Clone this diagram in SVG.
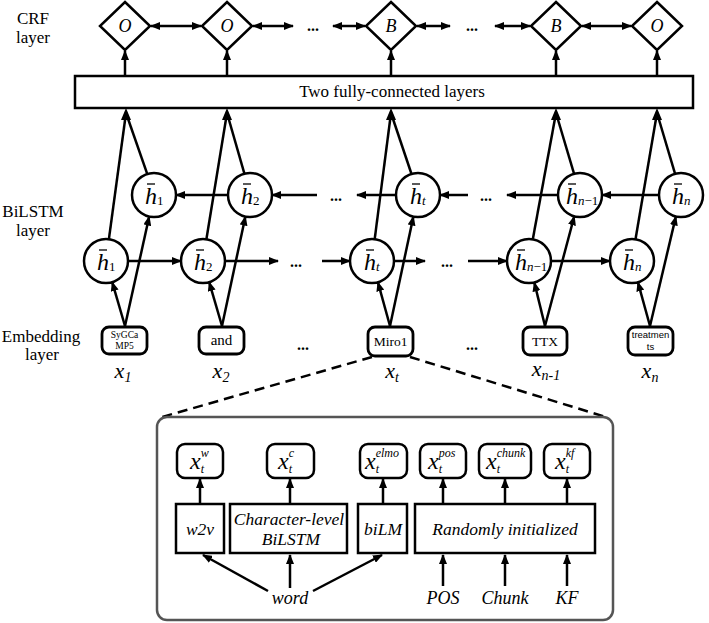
<svg xmlns="http://www.w3.org/2000/svg" width="709" height="623" viewBox="0 0 709 623" font-family="Liberation Serif, Times New Roman, serif">
<style>
svg text{font-family:'Liberation Serif','Times New Roman',Times,serif;fill:#000}
.side{font-size:17px;text-anchor:middle}
.shape{fill:#fff;stroke:#000;stroke-width:2.5}
.emb{fill:#fff;stroke:#000;stroke-width:2.8}
.ln{fill:none;stroke:#000;stroke-width:2.5}
.arr{fill:none;stroke:#000;stroke-width:2.5;marker-end:url(#ah)}
.dbl{fill:none;stroke:#000;stroke-width:2.5;marker-start:url(#ah);marker-end:url(#ah)}
.dash{fill:none;stroke:#000;stroke-width:2.5;stroke-dasharray:10 6}
.dots{font-size:16px;font-weight:bold;text-anchor:middle}
.lab{font-size:17.5px;font-style:italic;text-anchor:middle}
.h{font-size:24px;font-style:italic}
.hs{font-size:13px}
.up{font-style:normal}
.bar{stroke:#000;stroke-width:1.3}
.head{fill:#000}
.dl{font-size:18px;font-style:italic;text-anchor:middle}
.xl{font-size:22px;font-style:italic;text-anchor:middle}
.xs{font-size:14px}
.xt{font-size:24px;font-style:italic}
.ss{font-size:12px}
.et{text-anchor:middle}
svg text.sans{font-family:'Liberation Sans',Arial,sans-serif}
</style>
<defs>
<marker id="ah" viewBox="0 0 10 8" refX="9" refY="4" markerWidth="10" markerHeight="8" markerUnits="userSpaceOnUse" orient="auto-start-reverse"><path d="M0,0 L10,4 L0,8 z"/></marker>
</defs>

<g id="labels">
<text class="side" x="33" y="24">CRF</text>
<text class="side" x="33" y="43">layer</text>
<text class="side" x="33" y="217">BiLSTM</text>
<text class="side" x="33" y="236">layer</text>
<text class="side" x="41" y="342">Embedding</text>
<text class="side" x="42" y="360">layer</text>
</g>

<g id="connectors">
<line class="arr" x1="125" y1="76" x2="125" y2="51"/>
<line class="arr" x1="227" y1="76" x2="227" y2="51"/>
<line class="arr" x1="391" y1="76" x2="391" y2="51"/>
<line class="arr" x1="556" y1="76" x2="556" y2="51"/>
<line class="arr" x1="657" y1="76" x2="657" y2="51"/>
<line class="dbl" x1="151" y1="26" x2="201" y2="26"/>
<line class="dbl" x1="253" y1="26" x2="293" y2="26"/>
<line class="dbl" x1="333" y1="26" x2="365" y2="26"/>
<line class="dbl" x1="417" y1="26" x2="450" y2="26"/>
<line class="dbl" x1="495" y1="26" x2="530" y2="26"/>
<line class="dbl" x1="582" y1="26" x2="631" y2="26"/>
<line class="ln" x1="108.9" y1="239.2" x2="126" y2="113"/>
<line class="ln" x1="147.3" y1="174.1" x2="126" y2="113"/>
<line class="ln" x1="206.4" y1="239.3" x2="227" y2="113"/>
<line class="ln" x1="244.4" y1="173.7" x2="227" y2="113"/>
<line class="ln" x1="374.7" y1="239.2" x2="391" y2="113"/>
<line class="ln" x1="411.5" y1="174" x2="391" y2="113"/>
<line class="ln" x1="532.8" y1="239.3" x2="556" y2="113"/>
<line class="ln" x1="574.1" y1="173.8" x2="556" y2="113"/>
<line class="ln" x1="635.5" y1="239.3" x2="657" y2="113"/>
<line class="ln" x1="675.1" y1="173.8" x2="657" y2="113"/>
<path class="head" d="M126,108 L121,120 L131,120 Z"/>
<path class="head" d="M227,108 L222,120 L232,120 Z"/>
<path class="head" d="M391,108 L386,120 L396,120 Z"/>
<path class="head" d="M556,108 L551,120 L561,120 Z"/>
<path class="head" d="M657,108 L652,120 L662,120 Z"/>
<line class="arr" x1="128" y1="261" x2="181" y2="261"/>
<line class="arr" x1="225" y1="261" x2="278" y2="261"/>
<line class="arr" x1="322" y1="261" x2="350" y2="261"/>
<line class="arr" x1="394" y1="261" x2="425" y2="261"/>
<line class="arr" x1="468" y1="261" x2="507" y2="261"/>
<line class="arr" x1="551" y1="261" x2="610" y2="261"/>
<line class="arr" x1="228" y1="195" x2="176" y2="195"/>
<line class="arr" x1="317" y1="195" x2="272" y2="195"/>
<line class="arr" x1="396" y1="195" x2="357" y2="195"/>
<line class="arr" x1="468" y1="195" x2="440" y2="195"/>
<line class="arr" x1="558" y1="195" x2="507" y2="195"/>
<line class="arr" x1="659" y1="195" x2="602" y2="195"/>
<line class="arr" x1="125" y1="326" x2="112.2" y2="282.1"/>
<line class="arr" x1="125" y1="326" x2="149.2" y2="216.5"/>
<line class="arr" x1="222" y1="326" x2="209.2" y2="282.1"/>
<line class="arr" x1="222" y1="326" x2="245.4" y2="216.5"/>
<line class="arr" x1="390" y1="326" x2="377.9" y2="282.2"/>
<line class="arr" x1="390" y1="326" x2="413.4" y2="216.5"/>
<line class="arr" x1="545" y1="326" x2="534.3" y2="282.4"/>
<line class="arr" x1="545" y1="326" x2="574.3" y2="216.3"/>
<line class="arr" x1="650" y1="326" x2="637.9" y2="282.2"/>
<line class="arr" x1="650" y1="326" x2="675.9" y2="216.4"/>
<line class="dash" x1="372" y1="357" x2="162" y2="417"/>
<line class="dash" x1="410" y1="357" x2="606" y2="417"/>
<line class="arr" x1="200" y1="504" x2="200" y2="479"/>
<line class="arr" x1="290" y1="504" x2="290" y2="479"/>
<line class="arr" x1="383" y1="504" x2="383" y2="479"/>
<line class="arr" x1="443" y1="504" x2="443" y2="479"/>
<line class="arr" x1="505" y1="504" x2="505" y2="479"/>
<line class="arr" x1="567" y1="504" x2="567" y2="479"/>
<line class="arr" x1="268" y1="591" x2="203" y2="555"/>
<line class="arr" x1="290" y1="588" x2="290" y2="555"/>
<line class="arr" x1="313" y1="591" x2="382" y2="555"/>
<line class="arr" x1="443" y1="586" x2="443" y2="555"/>
<line class="arr" x1="505" y1="586" x2="505" y2="555"/>
<line class="arr" x1="567" y1="586" x2="567" y2="555"/>
</g>

<g id="dots">
<text class="dots" x="313" y="31">...</text>
<text class="dots" x="472" y="31">...</text>
<text class="dots" x="296" y="267">...</text>
<text class="dots" x="447" y="267">...</text>
<text class="dots" x="336" y="201">...</text>
<text class="dots" x="486" y="201">...</text>
<text class="dots" x="303" y="350">...</text>
<text class="dots" x="472" y="350">...</text>
</g>

<g id="crf1"><polygon class="shape" points="125,2 150,26 125,50 100,26"/><text class="dl" x="125" y="32">O</text></g>
<g id="crf2"><polygon class="shape" points="227,2 252,26 227,50 202,26"/><text class="dl" x="227" y="32">O</text></g>
<g id="crft"><polygon class="shape" points="391,2 416,26 391,50 366,26"/><text class="dl" x="391" y="32">B</text></g>
<g id="crfn1"><polygon class="shape" points="556,2 581,26 556,50 531,26"/><text class="dl" x="556" y="32">B</text></g>
<g id="crfn"><polygon class="shape" points="657,2 682,26 657,50 632,26"/><text class="dl" x="657" y="32">O</text></g>

<g id="fc"><rect class="shape" x="75" y="76" width="618" height="32"/><text x="392" y="97" style="font-size:17px;text-anchor:middle">Two fully-connected layers</text></g>

<g id="fwd1"><circle class="shape" cx="106" cy="261" r="22"/><text class="h" x="97" y="270">h<tspan class="hs up" dy="1">1</tspan></text><line class="bar" x1="99" y1="250" x2="107" y2="250"/></g>
<g id="fwd2"><circle class="shape" cx="203" cy="261" r="22"/><text class="h" x="194" y="270">h<tspan class="hs up" dy="1">2</tspan></text><line class="bar" x1="196" y1="250" x2="204" y2="250"/></g>
<g id="fwdt"><circle class="shape" cx="372" cy="261" r="22"/><text class="h" x="364" y="270">h<tspan class="hs" dy="1">t</tspan></text><line class="bar" x1="366" y1="250" x2="374" y2="250"/></g>
<g id="fwdn1"><circle class="shape" cx="529" cy="261" r="22"/><text class="h" x="515" y="270">h<tspan class="hs" dy="1">n</tspan><tspan class="hs up">−1</tspan></text><line class="bar" x1="517" y1="250" x2="525" y2="250"/></g>
<g id="fwdn"><circle class="shape" cx="632" cy="261" r="22"/><text class="h" x="623" y="270">h<tspan class="hs" dy="1">n</tspan></text><line class="bar" x1="625" y1="250" x2="633" y2="250"/></g>

<g id="bwd1"><circle class="shape" cx="154" cy="195" r="22"/><text class="h" x="145" y="204">h<tspan class="hs up" dy="1">1</tspan></text><line class="bar" x1="147" y1="184" x2="155" y2="184"/></g>
<g id="bwd2"><circle class="shape" cx="250" cy="195" r="22"/><text class="h" x="241" y="204">h<tspan class="hs up" dy="1">2</tspan></text><line class="bar" x1="243" y1="184" x2="251" y2="184"/></g>
<g id="bwdt"><circle class="shape" cx="418" cy="195" r="22"/><text class="h" x="410" y="204">h<tspan class="hs" dy="1">t</tspan></text><line class="bar" x1="412" y1="184" x2="420" y2="184"/></g>
<g id="bwdn1"><circle class="shape" cx="580" cy="195" r="22"/><text class="h" x="566" y="204">h<tspan class="hs" dy="1">n</tspan><tspan class="hs up">−1</tspan></text><line class="bar" x1="568" y1="184" x2="576" y2="184"/></g>
<g id="bwdn"><circle class="shape" cx="681" cy="195" r="22"/><text class="h" x="672" y="204">h<tspan class="hs" dy="1">n</tspan></text><line class="bar" x1="674" y1="184" x2="682" y2="184"/></g>

<g id="emb1"><rect class="emb" x="102" y="327" width="45" height="27" rx="7"/><text class="et" x="124.5" y="338" font-size="9.5">SyGCa</text><text class="et" x="124.5" y="349" font-size="9.5">MP5</text><text class="xl" x="123" y="378">x<tspan class="xs" dy="4">1</tspan></text></g>
<g id="emb2"><rect class="emb" x="199" y="327" width="45" height="27" rx="7"/><text class="et" x="221.5" y="345" font-size="15">and</text><text class="xl" x="221" y="378">x<tspan class="xs" dy="4">2</tspan></text></g>
<g id="embt"><rect class="emb" x="368" y="327" width="45" height="29" rx="7"/><text class="et" x="390.5" y="346" font-size="13.5">Miro1</text><text class="xl" x="392" y="378">x<tspan class="xs" dy="4">t</tspan></text></g>
<g id="embn1"><rect class="emb" x="523" y="327" width="44" height="28" rx="7"/><text class="et" x="545" y="346" font-size="13.5">TTX</text><text class="xl" x="546" y="376">x<tspan class="xs" dy="4">n-1</tspan></text></g>
<g id="embn"><rect class="emb" x="628" y="327" width="45" height="28" rx="7"/><text class="et sans" x="650.5" y="338" font-size="9.5">treatmen</text><text class="et sans" x="650.5" y="350" font-size="9.5">ts</text><text class="xl" x="650" y="378">x<tspan class="xs" dy="4">n</tspan></text></g>

<g id="detail"><rect x="157" y="417" width="456" height="203" rx="10" fill="none" stroke="#555" stroke-width="2.5"/></g>

<g id="xw"><rect class="shape" x="177" y="444" width="46" height="34" rx="8"/><text class="xt" x="190" y="469">x<tspan class="ss" dy="4">t</tspan><tspan class="ss" dx="-3.3" dy="-16">w</tspan></text></g>
<g id="xc"><rect class="shape" x="267" y="444" width="47" height="34" rx="8"/><text class="xt" x="278" y="469">x<tspan class="ss" dy="4">t</tspan><tspan class="ss" dx="-3.3" dy="-16">c</tspan></text></g>
<g id="xelmo"><rect class="shape" x="360" y="444" width="47" height="34" rx="8"/><text class="xt" x="365" y="469">x<tspan class="ss" dy="4">t</tspan><tspan class="ss" dx="-3.3" dy="-16">elmo</tspan></text></g>
<g id="xpos"><rect class="shape" x="420" y="444" width="46" height="34" rx="8"/><text class="xt" x="428" y="469">x<tspan class="ss" dy="4">t</tspan><tspan class="ss" dx="-3.3" dy="-16">pos</tspan></text></g>
<g id="xchunk"><rect class="shape" x="479" y="444" width="52" height="34" rx="8"/><text class="xt" x="486" y="469">x<tspan class="ss" dy="4">t</tspan><tspan class="ss" dx="-3.3" dy="-16">chunk</tspan></text></g>
<g id="xkf"><rect class="shape" x="544" y="444" width="46" height="34" rx="8"/><text class="xt" x="555" y="469">x<tspan class="ss" dy="4">t</tspan><tspan class="ss" dx="-3.3" dy="-16">kf</tspan></text></g>

<g id="w2v"><rect class="shape" x="176" y="504" width="48" height="49"/><text class="lab" x="200" y="535">w2v</text></g>
<g id="charbilstm"><rect class="shape" x="230" y="504" width="117" height="49"/><text class="lab" x="289" y="525">Character-level</text><text class="lab" x="291" y="545">BiLSTM</text></g>
<g id="bilm"><rect class="shape" x="358" y="504" width="49" height="49"/><text class="lab" x="383" y="535">biLM</text></g>
<g id="random"><rect class="shape" x="415" y="504" width="180" height="49"/><text class="lab" x="505" y="535">Randomly initialized</text></g>

<g id="inputs">
<text class="dl" x="290" y="604">word</text>
<text class="dl" x="443" y="604">POS</text>
<text class="dl" x="505" y="604">Chunk</text>
<text class="dl" x="567" y="604">KF</text>
</g>
</svg>
